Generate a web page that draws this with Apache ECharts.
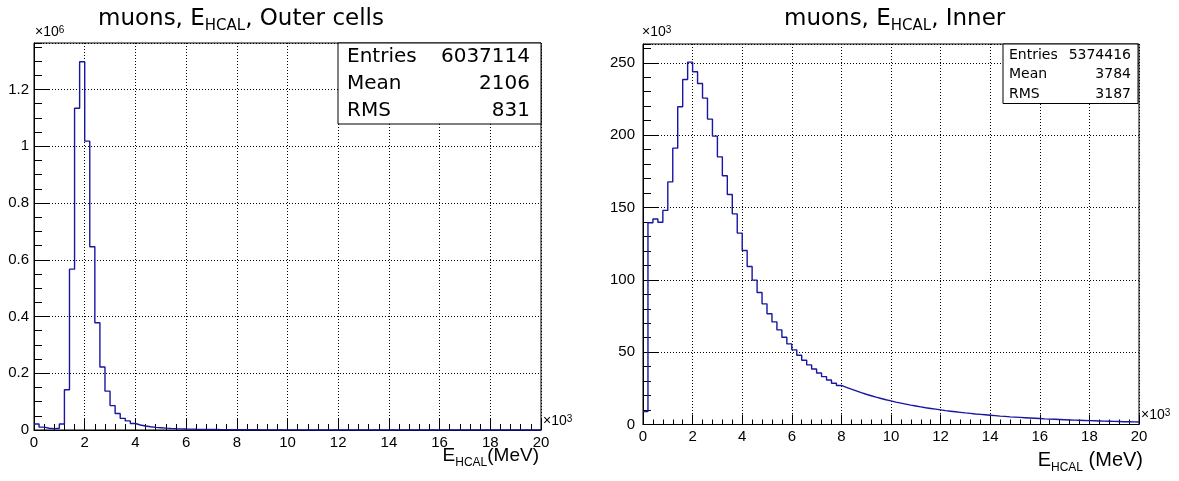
<!DOCTYPE html>
<html>
<head>
<meta charset="utf-8">
<script src="https://cdn.jsdelivr.net/npm/echarts@6/dist/echarts.min.js"></script>
<style>
html,body{margin:0;padding:0;background:#fff;}
#chart{width:1179px;height:481px;}
</style>
</head>
<body>
<div id="chart"></div>
<script>
// ---------------- DATA ----------------
// x axis: E_HCAL in units of 10^3 MeV, 100 bins of 0.2 (200 MeV)
const xMin = 0;
const xMax = 20;
const binWidth = 0.2;
const xTickLabels = ['0','2','4','6','8','10','12','14','16','18','20'];

// Outer cells, bin contents in units of 10^6 entries
const outerCounts = [
  0.021, 0.010, 0.006, 0.005, 0.006, 0.021, 0.142, 0.567, 1.134, 1.298,
  1.018, 0.646, 0.378, 0.222, 0.137, 0.086, 0.058, 0.041, 0.032, 0.023,
  0.0175, 0.014, 0.0115, 0.0094, 0.008, 0.0065, 0.0056, 0.0048, 0.0041, 0.0035,
  0.003, 0.0026, 0.0023, 0.002, 0.0018, 0.0016, 0.0014, 0.0012, 0.0011, 0.001,
  0.0009, 0.0008, 0.0007, 0.00065, 0.0006, 0.00055, 0.0005, 0.00045, 0.0004, 0.00037,
  0.00034, 0.00031, 0.00028, 0.00026, 0.00024, 0.00022, 0.0002, 0.00019, 0.00018, 0.00017,
  0.00016, 0.00015, 0.00014, 0.00013, 0.00012, 0.00011, 0.0001, 0.0001, 0.00009, 0.00009,
  0.00008, 0.00008, 0.00007, 0.00007, 0.00006, 0.00006, 0.00006, 0.00005, 0.00005, 0.00005,
  0.00004, 0.00004, 0.00004, 0.00004, 0.00003, 0.00003, 0.00003, 0.00003, 0.00003, 0.00002,
  0.00002, 0.00002, 0.00002, 0.00002, 0.00002, 0.00002, 0.00001, 0.00001, 0.00001, 0.00001
];

// Inner cells, bin contents in units of 10^3 entries
const innerCounts = [
  9.0, 139.5, 142.0, 139.8, 148.0, 167.7, 191.0, 219.6, 238.5, 250.5,
  243.8, 235.7, 225.6, 211.1, 199.3, 185.0, 171.9, 159.0, 145.6, 132.3,
  120.3, 109.2, 99.8, 91.2, 83.4, 76.5, 70.9, 65.4, 60.3, 55.7,
  51.6, 47.9, 44.4, 41.2, 38.4, 35.6, 33.1, 30.8, 28.5, 27.0,
  25.7, 24.4, 23.2, 22.0, 20.9, 19.9, 18.9, 18.0, 17.1, 16.3,
  15.5, 14.8, 14.1, 13.4, 12.8, 12.2, 11.6, 11.1, 10.6, 10.1,
  9.6, 9.2, 8.8, 8.4, 8.0, 7.7, 7.3, 7.0, 6.7, 6.4,
  6.1, 5.8, 5.6, 5.3, 5.1, 4.9, 4.7, 4.5, 4.3, 4.1,
  3.9, 3.75, 3.6, 3.45, 3.3, 3.15, 3.0, 2.9, 2.8, 2.65,
  2.55, 2.45, 2.35, 2.25, 2.15, 2.05, 1.95, 1.9, 1.8, 1.7
];

const statNames = ['Entries', 'Mean', 'RMS'];
const outerStatValues = ['6037114', '2106', '831'];
const innerStatValues = ['5374416', '3784', '3187'];

const outerTitle = ['muons, E', 'HCAL', ', Outer cells'];
const innerTitle = ['muons, E', 'HCAL', ', Inner'];
const xTitleLeft = ['E', 'HCAL', '(MeV)'];
const xTitleRight = ['E', 'HCAL', ' (MeV)'];

const outerYMax = 1.364;   // ×10^6
const innerYMax = 263;     // ×10^3

// ---------------- STYLE ----------------
const fSans = '"Liberation Sans", Arial, Helvetica, sans-serif';
const fWide = '"DejaVu Sans", "Liberation Sans", sans-serif';
const histColor = '#1616a2';
const gridDot = [1, 2];

function histPoints(counts) {
  const pts = counts.map((v, i) => [Number((xMin + i * binWidth).toFixed(4)), v]);
  pts.push([xMax, counts[counts.length - 1]]);
  return pts;
}

function xAxisDef(gridIndex, major, minor, fontSize) {
  return {
    gridIndex, type: 'value', min: xMin, max: xMax, interval: 2,
    axisLine: { show: true, onZero: false, lineStyle: { color: '#000', width: 1 } },
    axisTick: { show: true, inside: true, length: major, lineStyle: { color: '#000', width: 1 } },
    minorTick: { show: true, splitNumber: 5, length: minor, lineStyle: { color: '#000', width: 1 } },
    axisLabel: { color: '#000', fontSize, fontFamily: fSans, margin: 5,
      formatter: (v) => xTickLabels[Math.round(v / 2)] },
    splitLine: { show: true, lineStyle: { color: '#000', type: gridDot, width: 1 } },
    minorSplitLine: { show: false }
  };
}
function yMajorDef(gridIndex, max, interval, margin) {
  return {
    gridIndex, type: 'value', min: 0, max, interval, position: 'left',
    axisLine: { show: true, onZero: false, lineStyle: { color: '#000', width: 1 } },
    axisTick: { show: true, inside: true, length: 15, lineStyle: { color: '#000', width: 1 } },
    axisLabel: { color: '#000', fontSize: 15, fontFamily: fSans, margin, showMaxLabel: false },
    splitLine: { show: true, lineStyle: { color: '#000', type: gridDot, width: 1 } }
  };
}
function yMinorDef(gridIndex, max, interval) {
  return {
    gridIndex, type: 'value', min: 0, max, interval, position: 'left',
    axisLine: { show: false },
    axisTick: { show: true, inside: true, length: 8, lineStyle: { color: '#000', width: 1 } },
    axisLabel: { show: false },
    splitLine: { show: false }
  };
}

// rich text helpers
function subText(x, y, parts, mainSize, subSize, family, align, mainLH, subPad) {
  return {
    type: 'text', x, y, z: 100,
    style: {
      text: '{m|' + parts[0] + '}{s|' + parts[1] + '}{m|' + parts[2] + '}',
      align, verticalAlign: 'top',
      rich: {
        m: { fontSize: mainSize, fontFamily: family, lineHeight: mainLH, verticalAlign: 'top', fill: '#000' },
        s: { fontSize: subSize, fontFamily: family, lineHeight: subSize, verticalAlign: 'bottom', padding: [subPad, 0, 0, 0], fill: '#000' }
      }
    }
  };
}
function expText(x, baseline, base, exp) {
  return {
    type: 'text', x, y: baseline - 16, z: 100,
    style: {
      text: '{n|' + base + '}{p|' + exp + '}',
      align: 'left', verticalAlign: 'top',
      rich: {
        n: { fontSize: 14, fontFamily: fSans, lineHeight: 14, verticalAlign: 'bottom', padding: [4, 0, 0, 0], fill: '#000' },
        p: { fontSize: 10, fontFamily: fSans, lineHeight: 11, verticalAlign: 'top', fill: '#000' }
      }
    }
  };
}
function statsBox(x, y, w, h, labelX, valueX, rowYs, fontSize, values) {
  const els = [{
    type: 'rect', z: 90,
    shape: { x, y, width: w, height: h },
    style: { fill: '#fff', stroke: '#000', lineWidth: 1 }
  }];
  statNames.forEach((name, i) => {
    els.push({ type: 'text', x: labelX, y: rowYs[i], z: 100,
      style: { text: name, align: 'left', verticalAlign: 'middle', fontSize, fontFamily: fWide, fill: '#000' } });
    els.push({ type: 'text', x: valueX, y: rowYs[i], z: 100,
      style: { text: values[i], align: 'right', verticalAlign: 'middle', fontSize, fontFamily: fWide, fill: '#000' } });
  });
  return els;
}

const chart = echarts.init(document.getElementById('chart'), null, { renderer: 'canvas' });
const option = {
  animation: false,
  backgroundColor: '#fff',
  grid: [
    { left: 34, top: 43, width: 507, height: 387, show: true, borderColor: '#000', borderWidth: 1, backgroundColor: 'transparent' },
    { left: 643, top: 44, width: 496, height: 380.5, show: true, borderColor: '#000', borderWidth: 1, backgroundColor: 'transparent' }
  ],
  xAxis: [
    xAxisDef(0, 12, 6, 15),
    xAxisDef(1, 10, 5, 15)
  ],
  yAxis: [
    yMajorDef(0, outerYMax, 0.2, 5),
    yMinorDef(0, outerYMax, 0.05),
    yMajorDef(1, innerYMax, 50, 8),
    yMinorDef(1, innerYMax, 10)
  ],
  series: [
    { type: 'line', name: 'Outer cells', xAxisIndex: 0, yAxisIndex: 0, data: histPoints(outerCounts),
      step: 'end', symbol: 'none', showSymbol: false, clip: true, z: 5,
      lineStyle: { color: histColor, width: 1.4 } },
    { type: 'line', name: 'Inner', xAxisIndex: 1, yAxisIndex: 2, data: histPoints(innerCounts),
      step: 'end', symbol: 'none', showSymbol: false, clip: true, z: 5,
      lineStyle: { color: histColor, width: 1.4 } }
  ],
  graphic: [
    subText(98, 7.5, outerTitle, 23, 15, fWide, 'left', 26, 23),
    subText(784, 7.5, innerTitle, 23, 15, fWide, 'left', 26, 23),
    subText(539, 446.5, xTitleLeft, 19, 12, fSans, 'right', 22, 19),
    subText(1143, 450, xTitleRight, 20, 12, fSans, 'right', 24, 15),
    expText(35, 41.5, '×10', '6'),
    expText(642, 41.5, '×10', '3'),
    expText(543, 430, '×10', '3'),
    expText(1141, 424, '×10', '3'),
    ...statsBox(338, 43, 203, 81, 347, 530, [57, 84, 110.5], 20, outerStatValues),
    ...statsBox(1003, 44, 135, 59.5, 1009, 1131, [55, 74.5, 94], 14, innerStatValues)
  ]
};
chart.setOption(option);
</script>
</body>
</html>
